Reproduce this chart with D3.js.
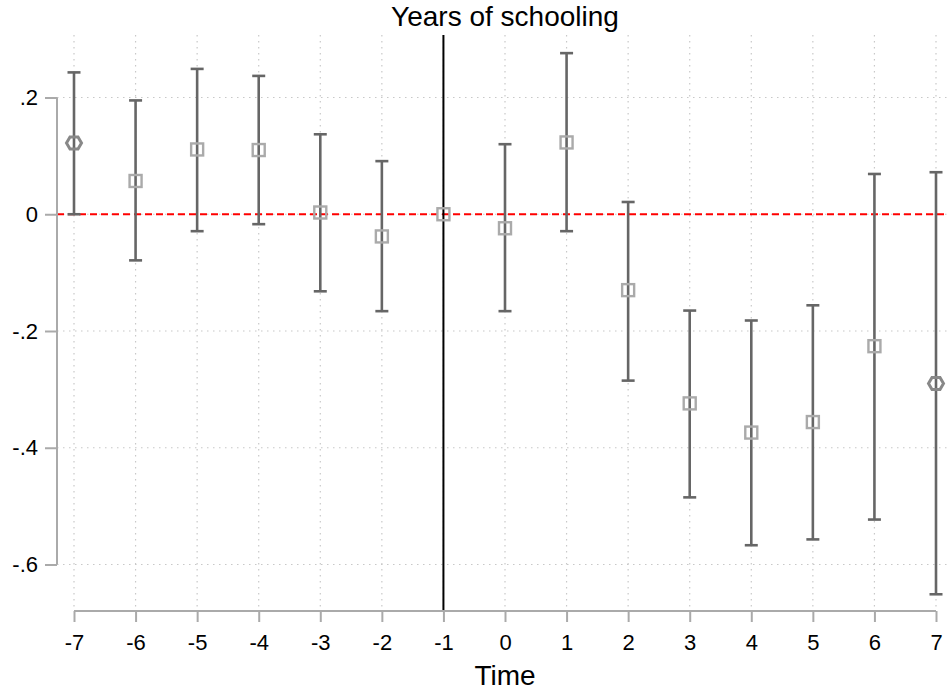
<!DOCTYPE html>
<html><head><meta charset="utf-8">
<script src="https://cdn.jsdelivr.net/npm/d3@7"></script>
<style>body{margin:0;background:#fff}svg{display:block}text{font-family:"Liberation Sans",Arial,sans-serif;fill:#000}</style>
</head><body><svg id="c" width="948" height="694"></svg>
<script>
const periods = [-7,-6,-5,-4,-3,-2,-1,0,1,2,3,4,5,6,7];
const estimates = [0.122,0.057,0.111,0.110,0.003,-0.038,0,-0.024,0.123,-0.130,-0.324,-0.374,-0.356,-0.226,-0.290];
const upper = [0.243,0.195,0.249,0.237,0.137,0.091,null,0.120,0.276,0.021,-0.165,-0.182,-0.156,0.069,0.072];
const lower = [0.000,-0.079,-0.029,-0.017,-0.132,-0.166,null,-0.166,-0.029,-0.285,-0.485,-0.567,-0.557,-0.523,-0.651];
const yTicks = [0.2,0,-0.2,-0.4,-0.6];
const yTickLabels = [".2","0","-.2","-.4","-.6"];
const xTickLabels = ["-7","-6","-5","-4","-3","-2","-1","0","1","2","3","4","5","6","7"];
const endpointPeriods = [-7,7];

const svg = d3.select("#c");
const x = d3.scaleLinear().domain([-7,7]).range([74,936]);
const y = d3.scaleLinear().domain([0.2,-0.6]).range([97.5,564.5]);
const plotTop = 35, plotBottom = 611, plotLeft = 57, plotRight = 948;
const FF = "Liberation Sans, Arial, sans-serif";

// gridlines
svg.append("g").selectAll("line").data(yTicks).join("line")
  .attr("x1",plotLeft).attr("x2",plotRight).attr("y1",d=>y(d)).attr("y2",d=>y(d))
  .attr("stroke","#c8c8c8").attr("stroke-width",1.2).attr("stroke-dasharray","1.5,4.5");
svg.append("g").selectAll("line").data(periods).join("line")
  .attr("x1",d=>x(d)).attr("x2",d=>x(d)).attr("y1",plotTop).attr("y2",plotBottom)
  .attr("stroke","#c8c8c8").attr("stroke-width",1.2).attr("stroke-dasharray","1.5,4.5");

// zero line
svg.append("line").attr("x1",plotLeft).attr("x2",plotRight).attr("y1",y(0)).attr("y2",y(0))
  .attr("stroke","#ff0000").attr("stroke-width",2).attr("stroke-dasharray","7,4");

// vertical reference line
svg.append("line").attr("x1",x(-1)).attr("x2",x(-1)).attr("y1",plotTop).attr("y2",plotBottom)
  .attr("stroke","#000").attr("stroke-width",2);

// axes
const yAxis = d3.axisLeft(y).tickValues(yTicks).tickFormat((d,i)=>yTickLabels[i]).tickSize(12).tickPadding(7);
const gy = svg.append("g").attr("transform",`translate(${plotLeft},0)`).call(yAxis);
gy.select(".domain").attr("d",`M0,${y(0.2)}V${y(-0.6)}`).attr("stroke","#aaa").attr("stroke-width",2);
gy.selectAll(".tick line").attr("stroke","#aaa").attr("stroke-width",2);
gy.selectAll(".tick text").attr("font-size",22).attr("fill","#000").style("font-family",FF);

const xAxis = d3.axisBottom(x).tickValues(periods).tickFormat((d,i)=>xTickLabels[i]).tickSize(11).tickPadding(12);
const gx = svg.append("g").attr("transform",`translate(0,${plotBottom})`).call(xAxis);
gx.select(".domain").attr("d",`M${x(-7)},0H${x(7)}`).attr("stroke","#aaa").attr("stroke-width",2);
gx.selectAll(".tick line").attr("stroke","#aaa").attr("stroke-width",2);
gx.selectAll(".tick text").attr("font-size",22).attr("fill","#000").style("font-family",FF);

// error bars
const data = periods.map((p,i)=>({p,est:estimates[i],hi:upper[i],lo:lower[i]}));
const ci = data.filter(d=>d.hi!==null);
const eb = svg.append("g").attr("stroke","#666").attr("stroke-width",2.6);
eb.selectAll("line.v").data(ci).join("line").attr("class","v")
  .attr("x1",d=>x(d.p)).attr("x2",d=>x(d.p)).attr("y1",d=>y(d.hi)).attr("y2",d=>y(d.lo));
eb.selectAll("line.t").data(ci).join("line").attr("class","t")
  .attr("x1",d=>x(d.p)-6.5).attr("x2",d=>x(d.p)+6.5).attr("y1",d=>y(d.hi)).attr("y2",d=>y(d.hi));
eb.selectAll("line.b").data(ci).join("line").attr("class","b")
  .attr("x1",d=>x(d.p)-6.5).attr("x2",d=>x(d.p)+6.5).attr("y1",d=>y(d.lo)).attr("y2",d=>y(d.lo));

// markers
const sq = data.filter(d=>!endpointPeriods.includes(d.p));
svg.append("g").selectAll("rect").data(sq).join("rect")
  .attr("x",d=>x(d.p)-6).attr("y",d=>y(d.est)-6).attr("width",12).attr("height",12)
  .attr("fill","none").attr("stroke","#aaa").attr("stroke-width",2.4);
const hx = data.filter(d=>endpointPeriods.includes(d.p));
svg.append("g").selectAll("path").data(hx).join("path")
  .attr("d",d=>{const cx=x(d.p),cy=y(d.est);return `M${cx-7.5},${cy}L${cx-4},${cy-6}H${cx+4}L${cx+7.5},${cy}L${cx+4},${cy+6}H${cx-4}Z`;})
  .attr("fill","none").attr("stroke","#888").attr("stroke-width",3);

// titles
svg.append("text").attr("x",505).attr("y",26).attr("text-anchor","middle").attr("font-size",28).text("Years of schooling");
svg.append("text").attr("x",505).attr("y",685).attr("text-anchor","middle").attr("font-size",28).text("Time");
</script></body></html>
